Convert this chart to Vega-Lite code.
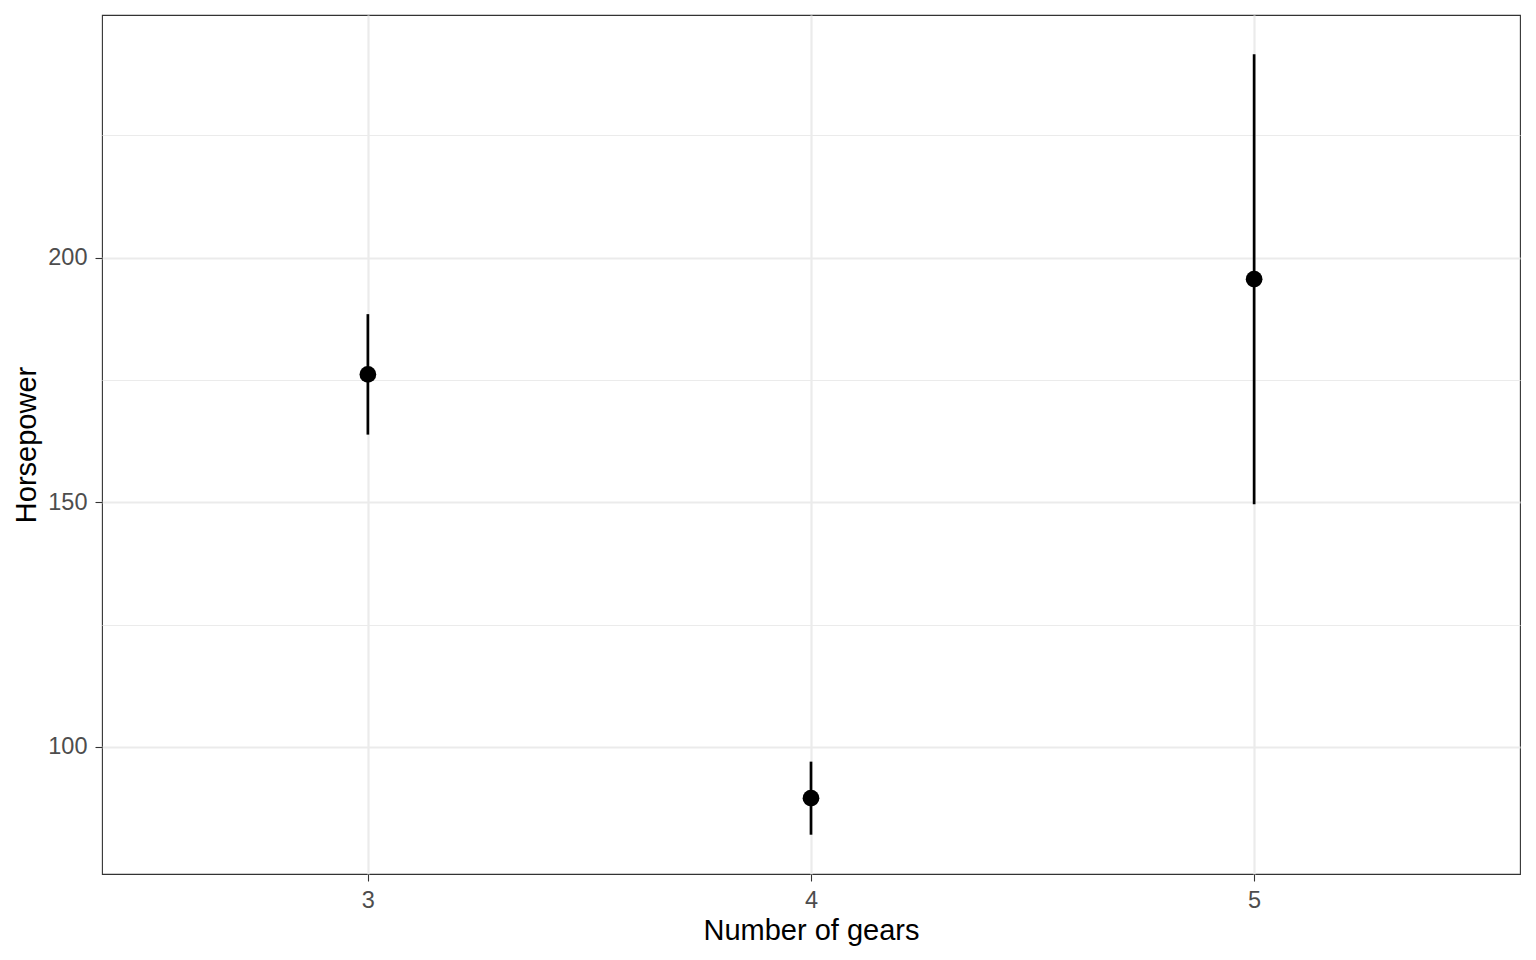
{
  "$schema": "https://vega.github.io/schema/vega-lite/v6.json",
  "autosize": "none",
  "width": 1418,
  "height": 859,
  "padding": {"left": 102, "top": 15, "right": 16, "bottom": 86},
  "background": "white",
  "config": {
    "font": "Liberation Sans",
    "view": {"stroke": "#333333", "strokeWidth": 1.1},
    "axis": {
      "labelFont": "Liberation Sans",
      "titleFont": "Liberation Sans",
      "labelFontSize": 23.5,
      "labelColor": "#4D4D4D",
      "titleFontSize": 29,
      "titleColor": "#000000",
      "titleFontWeight": "normal",
      "tickColor": "#333333",
      "tickSize": 7,
      "tickWidth": 1.1,
      "gridColor": "#EBEBEB",
      "domain": false
    }
  },
  "data": {
    "values": [
      {"gear": 3, "hp": 176.13, "low": 163.82, "high": 188.45},
      {"gear": 4, "hp": 89.5, "low": 82.03, "high": 96.97},
      {"gear": 5, "hp": 195.6, "low": 149.61, "high": 241.59}
    ]
  },
  "layer": [
    {
      "mark": {"type": "rule", "color": "black", "strokeWidth": 2.7},
      "encoding": {
        "x": {
          "field": "gear", "type": "quantitative",
          "scale": {"domain": [2.4, 5.6], "nice": false, "zero": false},
          "axis": {"values": [3, 4, 5], "grid": true, "gridWidth": 2.2, "title": "Number of gears", "labelPadding": 7, "titlePadding": 5, "format": "d"}
        },
        "y": {
          "field": "low", "type": "quantitative",
          "scale": {"domain": [74.0, 249.6], "nice": false, "zero": false},
          "axis": {"values": [100, 150, 200], "grid": true, "gridWidth": 2.2, "title": "Horsepower", "labelPadding": 8, "titlePadding": 6}
        },
        "y2": {"field": "high"}
      }
    },
    {
      "mark": {"type": "point", "filled": true, "color": "black", "opacity": 1, "size": 280},
      "encoding": {
        "x": {"field": "gear", "type": "quantitative"},
        "y": {
          "field": "hp", "type": "quantitative",
          "axis": {"orient": "right", "values": [125, 175, 225], "grid": true, "gridWidth": 1.1, "labels": false, "ticks": false, "domain": false, "title": null}
        }
      }
    }
  ],
  "resolve": {"axis": {"y": "independent"}}
}
